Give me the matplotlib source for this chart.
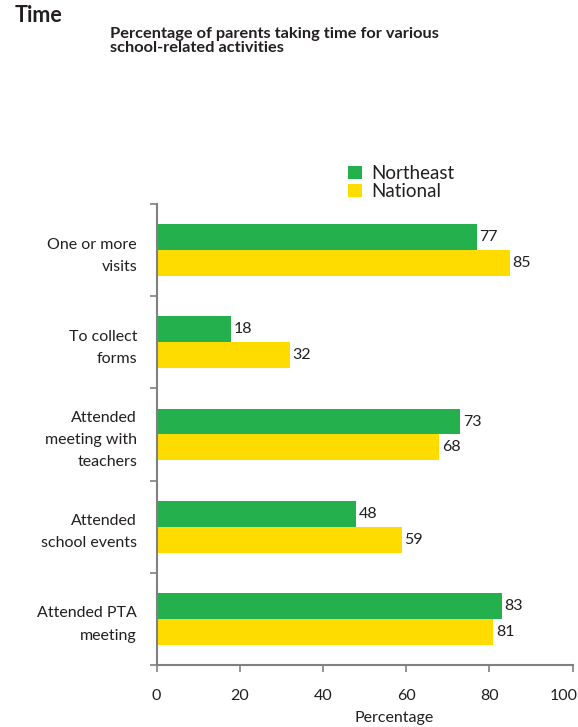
import matplotlib
matplotlib.use("Agg")
import matplotlib.pyplot as plt
import matplotlib.transforms as mtransforms
import numpy as np

categories = ["One or more\nvisits", "To collect\nforms", "Attended\nmeeting with\nteachers",
              "Attended\nschool events", "Attended PTA\nmeeting"]
northeast = [77, 18, 73, 48, 83]
national = [85, 32, 68, 59, 81]
xticks = [0, 20, 40, 60, 80, 100]

GREEN = "#24B14D"
YELLOW = "#FFDC00"
GRAY = "#808080"
TXT = "#231F20"

plt.rcParams['font.family'] = ['Lato', 'DejaVu Sans']

fig = plt.figure(figsize=(5.78, 7.27), dpi=100)
ax = fig.add_axes([0.2708, 0.0853, 0.7197, 0.6341])

y = np.arange(len(categories))
h = 0.28
ax.barh(y - h / 2, northeast, height=h, color=GREEN, label="Northeast")
ax.barh(y + h / 2, national, height=h, color=YELLOW, label="National")

for yi, v in zip(y, northeast):
    ax.text(v + 0.6, yi - h / 2, str(v), va="center", ha="left", fontsize=11.5, color=TXT)
for yi, v in zip(y, national):
    ax.text(v + 0.6, yi + h / 2, str(v), va="center", ha="left", fontsize=11.5, color=TXT)

ax.set_xlim(0, 100)
ax.set_ylim(len(categories) - 0.5, -0.5)
ax.set_xticks(xticks)
ax.set_xticklabels([str(t) for t in xticks], fontsize=11.5, color=TXT)
ax.set_yticks(y)
ax.set_yticklabels(categories, fontsize=11.5, color=TXT, linespacing=1.75)
ax.set_yticks(np.arange(-0.5, len(categories)), minor=True)
ax.tick_params(axis="y", which="major", length=0, pad=14)
ax.tick_params(axis="y", which="minor", length=5, width=1.2, color=GRAY, direction="out")
ax.tick_params(axis="x", length=5, width=1.2, color=GRAY, direction="out", pad=12)

# shift the last x tick label left so it stays inside the figure
last = ax.get_xticklabels()[-1]
last.set_transform(last.get_transform() + mtransforms.ScaledTranslation(-9 / 100, 0, fig.dpi_scale_trans))

for s in ["top", "right"]:
    ax.spines[s].set_visible(False)
for s in ["left", "bottom"]:
    ax.spines[s].set_color(GRAY)
    ax.spines[s].set_linewidth(1.5)

ax.set_xlabel("Percentage", fontsize=11.5, color=TXT)
ax.xaxis.set_label_coords(0.57, -0.1)

leg = fig.legend(loc="upper left", bbox_to_anchor=(348 / 578, 1 - 165 / 727), frameon=False,
                 fontsize=13.5, handlelength=0.75, handleheight=0.75, handletextpad=0.5,
                 labelspacing=0.05, borderaxespad=0, borderpad=0)
for t in leg.get_texts():
    t.set_color(TXT)

fig.text(15 / 578, 1 - 16 / 727, "Time", fontsize=15.5, fontweight="bold", color=TXT, va="center")
fig.text(110 / 578, 1 - 41 / 727, "Percentage of parents taking time for various\nschool-related activities",
         fontsize=11.8, fontweight="bold", color=TXT, va="center", linespacing=1.0)

fig.savefig("out.png", dpi=100)
